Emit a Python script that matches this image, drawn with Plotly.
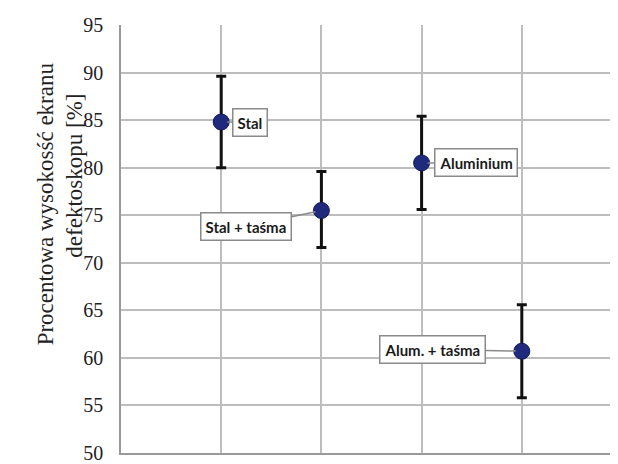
import plotly.graph_objects as go

categories = ["Stal", "Stal + taśma", "Aluminium", "Alum. + taśma"]
x_pos = [1, 2, 3, 4]
values = [84.8, 75.5, 80.5, 60.7]
err_plus = [4.8, 4.1, 4.9, 4.9]
err_minus = [4.8, 3.9, 4.9, 4.9]
y_ticks = [50, 55, 60, 65, 70, 75, 80, 85, 90, 95]
# label offsets in pixels (ax, ay) for callouts
label_offsets = [(29, 0), (-75, 16), (54, 0), (-89, -2)]

fig = go.Figure()
fig.add_trace(go.Scatter(
    x=x_pos, y=values, mode="markers",
    marker=dict(size=16, color="#1f2a7c", line=dict(color="#141c5c", width=1)),
    error_y=dict(type="data", symmetric=False, array=err_plus, arrayminus=err_minus,
                 color="#111111", thickness=3, width=5),
    showlegend=False, hoverinfo="skip",
))

for cat, xv, yv, (ax, ay) in zip(categories, x_pos, values, label_offsets):
    fig.add_annotation(
        x=xv, y=yv, text=cat, showarrow=True, arrowhead=0, arrowwidth=1.5,
        arrowcolor="#8a8a8a", ax=ax, ay=ay, standoff=6,
        font=dict(family="Lato", size=15, color="#1a1a1a", weight="bold"),
        bgcolor="white", bordercolor="#8a8a8a", borderwidth=1.5, borderpad=4,
    )

fig.add_annotation(
    xref="paper", yref="paper", x=0, y=0.581, xshift=-76, showarrow=False,
    xanchor="center", yanchor="middle",
    text="Procentowa wysokosść ekranu", textangle=-90,
    font=dict(family="Liberation Serif", size=23, color="#222222"),
)
fig.add_annotation(
    xref="paper", yref="paper", x=0, y=0.648, xshift=-46, showarrow=False,
    xanchor="center", yanchor="middle",
    text="defektoskopu [%]", textangle=-90,
    font=dict(family="Liberation Serif", size=23, color="#222222"),
)

fig.update_xaxes(
    range=[0, 4.96], tick0=0, dtick=1, showticklabels=False, ticks="",
    showgrid=True, gridcolor="#bdbdbd", gridwidth=1.5,
    showline=True, linecolor="#9a9a9a", linewidth=1.5, zeroline=False,
)
fig.update_yaxes(
    range=[50, 95], tickvals=y_ticks, ticktext=[str(v) for v in y_ticks],
    ticks="outside", ticklen=12, tickcolor="rgba(0,0,0,0)",
    ticklabeloverflow="allow",
    tickfont=dict(family="Liberation Serif", size=20, color="#222222"),
    showgrid=True, gridcolor="#bdbdbd", gridwidth=1.5,
    showline=True, linecolor="#9a9a9a", linewidth=1.5, zeroline=False,
)
# page body has an 8px margin, so the figure is sized to fit the window
fig.update_layout(
    width=610, height=456,
    margin=dict(l=113, r=0, t=17, b=7),
    plot_bgcolor="white", paper_bgcolor="white",
)
fig.write_html("out.html")
